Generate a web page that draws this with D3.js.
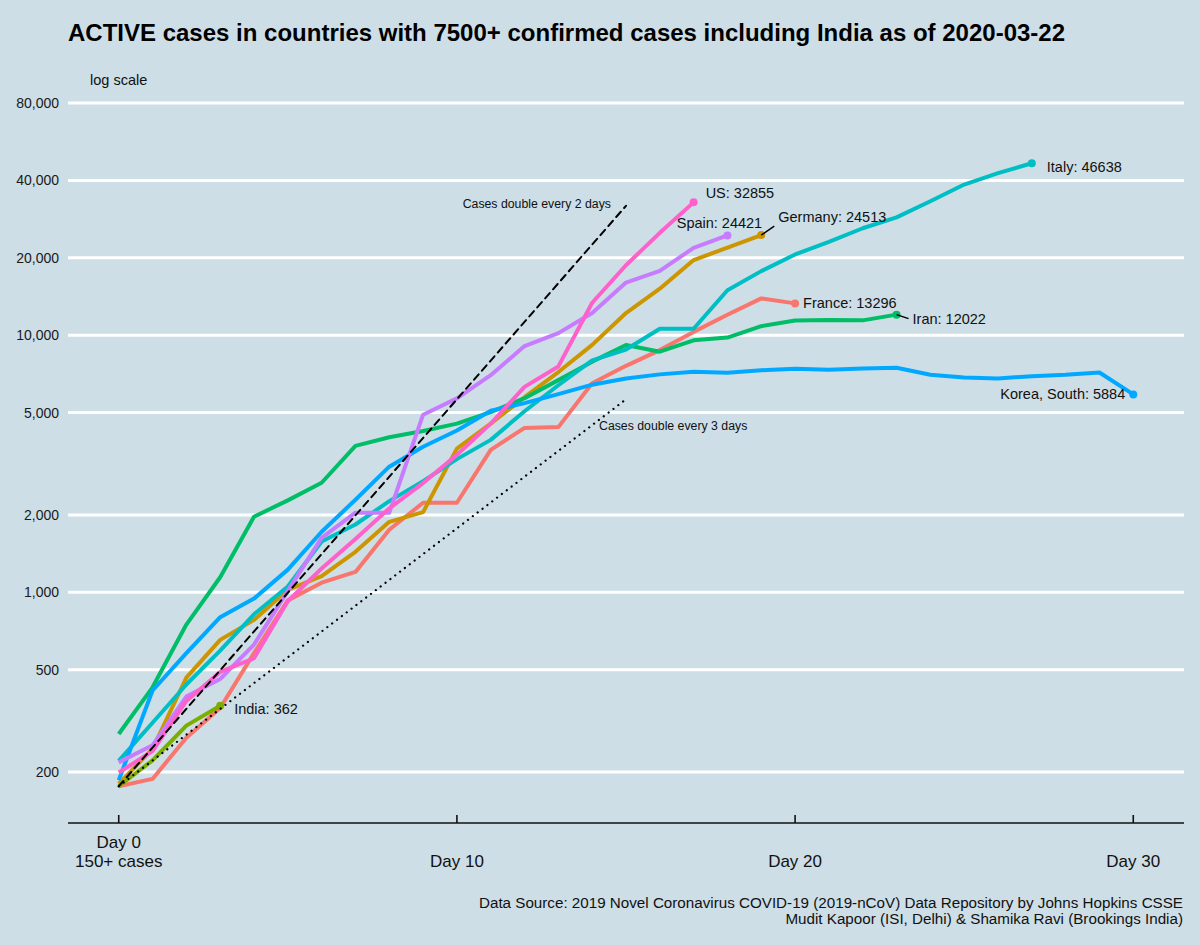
<!DOCTYPE html>
<html><head><meta charset="utf-8">
<script src="https://cdn.jsdelivr.net/npm/d3@7"></script>
<style>
body{margin:0;background:#cddee6;}
svg{display:block;}
text{font-family:"Liberation Sans",Arial,Helvetica,sans-serif;}
</style>
</head><body>
<svg id="chart" width="1200" height="945"></svg>
<script>
// ---- data ----
const countries = ["France","Germany","India","Iran","Italy","Korea, South","Spain","US"];
const seriesColors = ["#F8766D","#CD9600","#7CAE00","#00BE67","#00BFC4","#00A9FF","#C77CFF","#FF61CC"];
// active cases by day since 150+ confirmed cases (day 0, 1, 2, ...)
const franceActive  = [176,188,272,355,580,930,1090,1200,1750,2230,2230,3580,4360,4390,6500,7600,8750,10300,12000,13900,13296];
const germanyActive = [180,246,466,653,781,1022,1156,1437,1880,2050,3622,4530,5738,7188,9166,12194,15163,19601,21896,24513];
const indiaActive   = [176,222,303,362];
const iranActive    = [281,427,749,1144,1968,2278,2667,3710,4009,4238,4530,5020,5687,6687,7891,9159,8624,9548,9792,10837,11413,11466,11419,12022];
const italyActive   = [221,311,438,593,821,1053,1577,1835,2263,2706,3296,3916,5061,6387,7985,8794,10590,10590,14955,17750,20603,23073,26062,28710,33190,38549,42681,46638];
const koreaActive   = [186,415,580,800,945,1225,1720,2290,3080,3680,4260,5080,5440,5900,6420,6790,7040,7210,7150,7310,7410,7330,7420,7470,7020,6840,6790,6930,7020,7160,5884];
const spainActive   = [218,254,393,460,626,1013,1628,2040,2039,4906,5679,6992,9070,10187,12206,16026,17779,21874,24421];
const usActive      = [199,241,378,490,554,923,1237,1611,2120,2660,3424,4530,6296,7559,13369,18709,25006,32855];
const allSeries = [franceActive,germanyActive,indiaActive,iranActive,italyActive,koreaActive,spainActive,usActive];

const yTicks = [200,500,1000,2000,5000,10000,20000,40000,80000];
const xTicks = [0,10,20,30];
const xTickLabels = [["Day 0","150+ cases"],["","Day 10"],["","Day 20"],["","Day 30"]];
const doublingLines = [{days:2,label:"Cases double every 2 days"},{days:3,label:"Cases double every 3 days"}];
const doublingStart = 176, doublingEndDay = 15;

const titleText = "ACTIVE cases in countries with 7500+ confirmed cases including India as of 2020-03-22";
const captionLines = ["Data Source: 2019 Novel Coronavirus COVID-19 (2019-nCoV) Data Repository by Johns Hopkins CSSE",
                      "Mudit Kapoor (ISI, Delhi) & Shamika Ravi (Brookings India)"];

// ---- layout ----
const svg = d3.select("#chart");
const x = d3.scaleLinear().domain([-1.5, 31.5]).range([68, 1184]);
const y = d3.scaleLog().domain([200, 80000]).range([772, 103]);
const fmt = d3.format(",");

// background
svg.append("rect").attr("width",1200).attr("height",945).attr("fill","#cddee6");

// gridlines
svg.append("g").selectAll("line").data(yTicks).join("line")
  .attr("x1",68).attr("x2",1184)
  .attr("y1",d=>y(d)).attr("y2",d=>y(d))
  .attr("stroke","#ffffff").attr("stroke-width",3);

// y tick labels
svg.append("g").selectAll("text").data(yTicks).join("text")
  .attr("x",59).attr("y",d=>y(d)+5)
  .attr("text-anchor","end").attr("font-size",14).attr("fill","#1a1a1a")
  .text(d=>fmt(d));

// x axis
const axisY = 823;
svg.append("line").attr("x1",68).attr("x2",1184).attr("y1",axisY).attr("y2",axisY)
  .attr("stroke","#111").attr("stroke-width",1.6);
svg.append("g").selectAll("line").data(xTicks).join("line")
  .attr("x1",d=>x(d)).attr("x2",d=>x(d)).attr("y1",axisY-8).attr("y2",axisY)
  .attr("stroke","#111").attr("stroke-width",1.6);
const xl = svg.append("g").selectAll("g").data(xTicks).join("g");
xl.append("text").attr("x",d=>x(d)).attr("y",848).attr("text-anchor","middle")
  .attr("font-size",17).attr("fill","#111").text((d,i)=>xTickLabels[i][0]);
xl.append("text").attr("x",d=>x(d)).attr("y",867).attr("text-anchor","middle")
  .attr("font-size",17).attr("fill","#111").text((d,i)=>xTickLabels[i][1]);

// title, subtitle
svg.append("text").attr("x",68).attr("y",41).attr("font-size",24).attr("font-weight","bold")
  .attr("fill","#000").text(titleText);
svg.append("text").attr("x",90).attr("y",85).attr("font-size",14.5).attr("fill","#111").text("log scale");

// caption
svg.append("g").selectAll("text").data(captionLines).join("text")
  .attr("x",1183).attr("y",(d,i)=>908+i*16).attr("text-anchor","end")
  .attr("font-size",15.2).attr("fill","#111").text(d=>d);

// country lines
const line = d3.line().x((d,i)=>x(i)).y(d=>y(d));
svg.append("g").selectAll("path").data(allSeries).join("path")
  .attr("d",line).attr("fill","none")
  .attr("stroke",(d,i)=>seriesColors[i]).attr("stroke-width",4)
  .attr("stroke-linejoin","round").attr("stroke-linecap","butt");
svg.append("g").selectAll("circle").data(allSeries).join("circle")
  .attr("cx",d=>x(d.length-1)).attr("cy",d=>y(d[d.length-1])).attr("r",4)
  .attr("fill",(d,i)=>seriesColors[i]);

// doubling reference lines
const dl = svg.append("g");
doublingLines.forEach((r,k)=>{
  const pts = [0, doublingEndDay].map(t=>[x(t), y(doublingStart*Math.pow(2,t/r.days))]);
  dl.append("line").attr("x1",pts[0][0]).attr("y1",pts[0][1]).attr("x2",pts[1][0]).attr("y2",pts[1][1])
    .attr("stroke","#000").attr("stroke-width",k===0?2:2.2)
    .attr("stroke-dasharray",k===0?"7,5":"0.1,6").attr("stroke-linecap","round");
});
// doubling labels
const endPt = r=>[x(doublingEndDay), y(doublingStart*Math.pow(2,doublingEndDay/r.days))];
(function(){
  const p2 = endPt(doublingLines[0]);
  svg.append("text").attr("x",p2[0]-15).attr("y",p2[1]+2).attr("text-anchor","end")
    .attr("font-size",12.3).attr("fill","#111").text(doublingLines[0].label);
  const p3 = endPt(doublingLines[1]);
  svg.append("text").attr("x",p3[0]-27).attr("y",p3[1]+31).attr("text-anchor","start")
    .attr("font-size",12.3).attr("fill","#111").text(doublingLines[1].label);
})();

// country end labels: [dx, dy, anchor, segment]
const labelNudges = {
  "France":[8,5,"start",false],
  "Germany":[17,-13,"start",true],
  "India":[14,8,"start",false],
  "Iran":[16,9,"start",true],
  "Italy":[15,9,"start",false],
  "Korea, South":[-8,5,"end",false],
  "Spain":[-8,-7,"middle",false],
  "US":[12,-4,"start",false]
};
const lg = svg.append("g");
countries.forEach((c,i)=>{
  const s = allSeries[i];
  const px = x(s.length-1), py = y(s[s.length-1]);
  const [dx,dy,anchor,seg] = labelNudges[c];
  if(seg){
    lg.append("line").attr("x1",px).attr("y1",py).attr("x2",px+dx-4).attr("y2",py+dy-(dy<0?-4:5))
      .attr("stroke","#000").attr("stroke-width",1.5);
  }
  lg.append("text").attr("x",px+dx).attr("y",py+dy).attr("text-anchor",anchor)
    .attr("font-size",14.5).attr("fill","#111").text(c+": "+s[s.length-1]);
});
</script>
</body></html>
